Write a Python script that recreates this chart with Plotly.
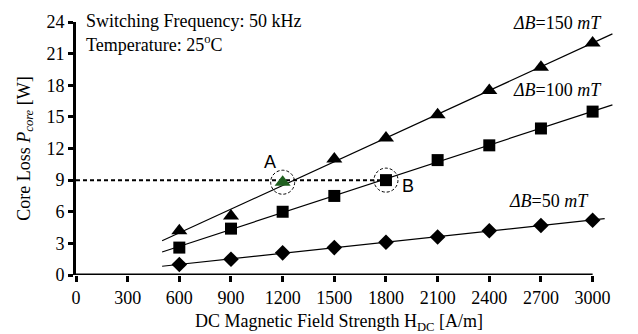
import numpy as np
import plotly.graph_objects as go

# Data
h_dc = [600, 900, 1200, 1500, 1800, 2100, 2400, 2700, 3000]
loss_150 = [4.2, 5.6, 8.8, 11.0, 13.0, 15.2, 17.5, 19.7, 22.0]
loss_100 = [2.6, 4.4, 6.0, 7.5, 9.0, 10.9, 12.3, 13.9, 15.5]
loss_50 = [1.0, 1.5, 2.1, 2.6, 3.1, 3.6, 4.2, 4.7, 5.2]
series_labels = ["<i>ΔB</i>=150 <i>mT</i>", "<i>ΔB</i>=100 <i>mT</i>", "<i>ΔB</i>=50 <i>mT</i>"]
fit_start = [500, 500, 500]
fit_end = [3115, 3115, 3070]
point_a = (1200, 8.8)
point_b = (1800, 9.0)
x_ticks = [0, 300, 600, 900, 1200, 1500, 1800, 2100, 2400, 2700, 3000]
y_ticks = [0, 3, 6, 9, 12, 15, 18, 21, 24]

SERIF = "Liberation Serif, Times New Roman, Times, serif"
SANS = "Liberation Sans, Arial, sans-serif"
FS = 18
fig = go.Figure()

series = [loss_150, loss_100, loss_50]
symbols = ["triangle-up", "square", "diamond"]
sizes = [14, 12, 12]
for i, ys in enumerate(series):
    k, c = np.polyfit(h_dc, ys, 1)
    xs = np.array([fit_start[i], fit_end[i]])
    fig.add_trace(go.Scatter(x=xs, y=k * xs + c, mode="lines",
                             line=dict(color="black", width=1.2),
                             showlegend=False, hoverinfo="skip"))

# dashed guide line
fig.add_trace(go.Scatter(x=[0, point_b[0]], y=[point_b[1], point_b[1]], mode="lines",
                         line=dict(color="black", width=2, dash="4px,3px"),
                         showlegend=False, hoverinfo="skip"))

for i, ys in enumerate(series):
    colors = ["black"] * len(ys)
    if i == 0:
        colors[h_dc.index(point_a[0])] = "#1f5f1f"
    fig.add_trace(go.Scatter(x=h_dc, y=ys, mode="markers",
                             marker=dict(symbol=symbols[i], size=sizes[i], color=colors,
                                         line=dict(width=0)),
                             showlegend=False, cliponaxis=False))

# circles around A and B
for (px, py) in [point_a, point_b]:
    fig.add_shape(type="circle", xref="x", yref="y", xsizemode="pixel", ysizemode="pixel",
                  xanchor=px, yanchor=py, x0=-12, x1=12, y0=-12, y1=12,
                  line=dict(color="black", width=1, dash="3px,2px"))

# x axis line to 3000
fig.add_shape(type="line", xref="x", yref="y", x0=-8, x1=3000, y0=0, y1=0,
              line=dict(color="black", width=3))

# header texts (paper coords, plot area is 261 px tall)
fig.add_annotation(xref="paper", yref="paper", x=8 / 539, y=1 + 1 / 261,
                   text="Switching Frequency: 50 kHz", xanchor="left", yanchor="middle",
                   showarrow=False, font=dict(family=SERIF, size=FS, color="black"))
fig.add_annotation(xref="paper", yref="paper", x=8 / 539, y=1 - 22 / 261,
                   text="Temperature: 25<sup>o</sup>C", xanchor="left", yanchor="middle",
                   showarrow=False, font=dict(family=SERIF, size=FS, color="black"))

# x axis title as annotation (centred as in the reference)
fig.add_annotation(xref="paper", yref="paper", x=262.5 / 539, y=-49 / 261,
                   text="DC Magnetic Field Strength H<sub>DC</sub> [A/m]",
                   xanchor="center", yanchor="middle", showarrow=False,
                   font=dict(family=SERIF, size=FS, color="black"))

ann = [
    dict(x=3065, y=23.95, text=series_labels[0]),
    dict(x=3065, y=17.55, text=series_labels[1]),
    dict(x=2990, y=7.05, text=series_labels[2]),
]
for a in ann:
    fig.add_annotation(xref="x", yref="y", showarrow=False, xanchor="right", yanchor="middle",
                       font=dict(family=SERIF, size=FS, color="black"), **a)
fig.add_annotation(x=1126, y=10.75, text="A", showarrow=False, xref="x", yref="y",
                   font=dict(family=SANS, size=FS, color="black"))
fig.add_annotation(x=1928, y=8.45, text="B", showarrow=False, xref="x", yref="y",
                   font=dict(family=SANS, size=FS, color="black"))

fig.update_layout(
    width=638, height=334,
    margin=dict(l=76, r=23, t=14, b=59),
    paper_bgcolor="white", plot_bgcolor="white",
    font=dict(family=SERIF, size=FS, color="black"),
    xaxis=dict(range=[0, 3130], tickvals=x_ticks, ticks="outside", ticklen=6, tickwidth=3,
               tickcolor="black", showline=False, showgrid=False, zeroline=False,
               tickfont=dict(family=SERIF, size=FS)),
    yaxis=dict(range=[0, 24], tickvals=y_ticks, ticks="outside", ticklen=5, tickwidth=3,
               tickcolor="black", showline=True, linewidth=3, linecolor="black",
               showgrid=False, zeroline=False,
               tickfont=dict(family=SERIF, size=FS),
               title=dict(text="Core Loss <i>P<sub>core</sub></i> [W]", standoff=12,
                          font=dict(family=SERIF, size=FS))),
)

fig.write_html("out.html")
